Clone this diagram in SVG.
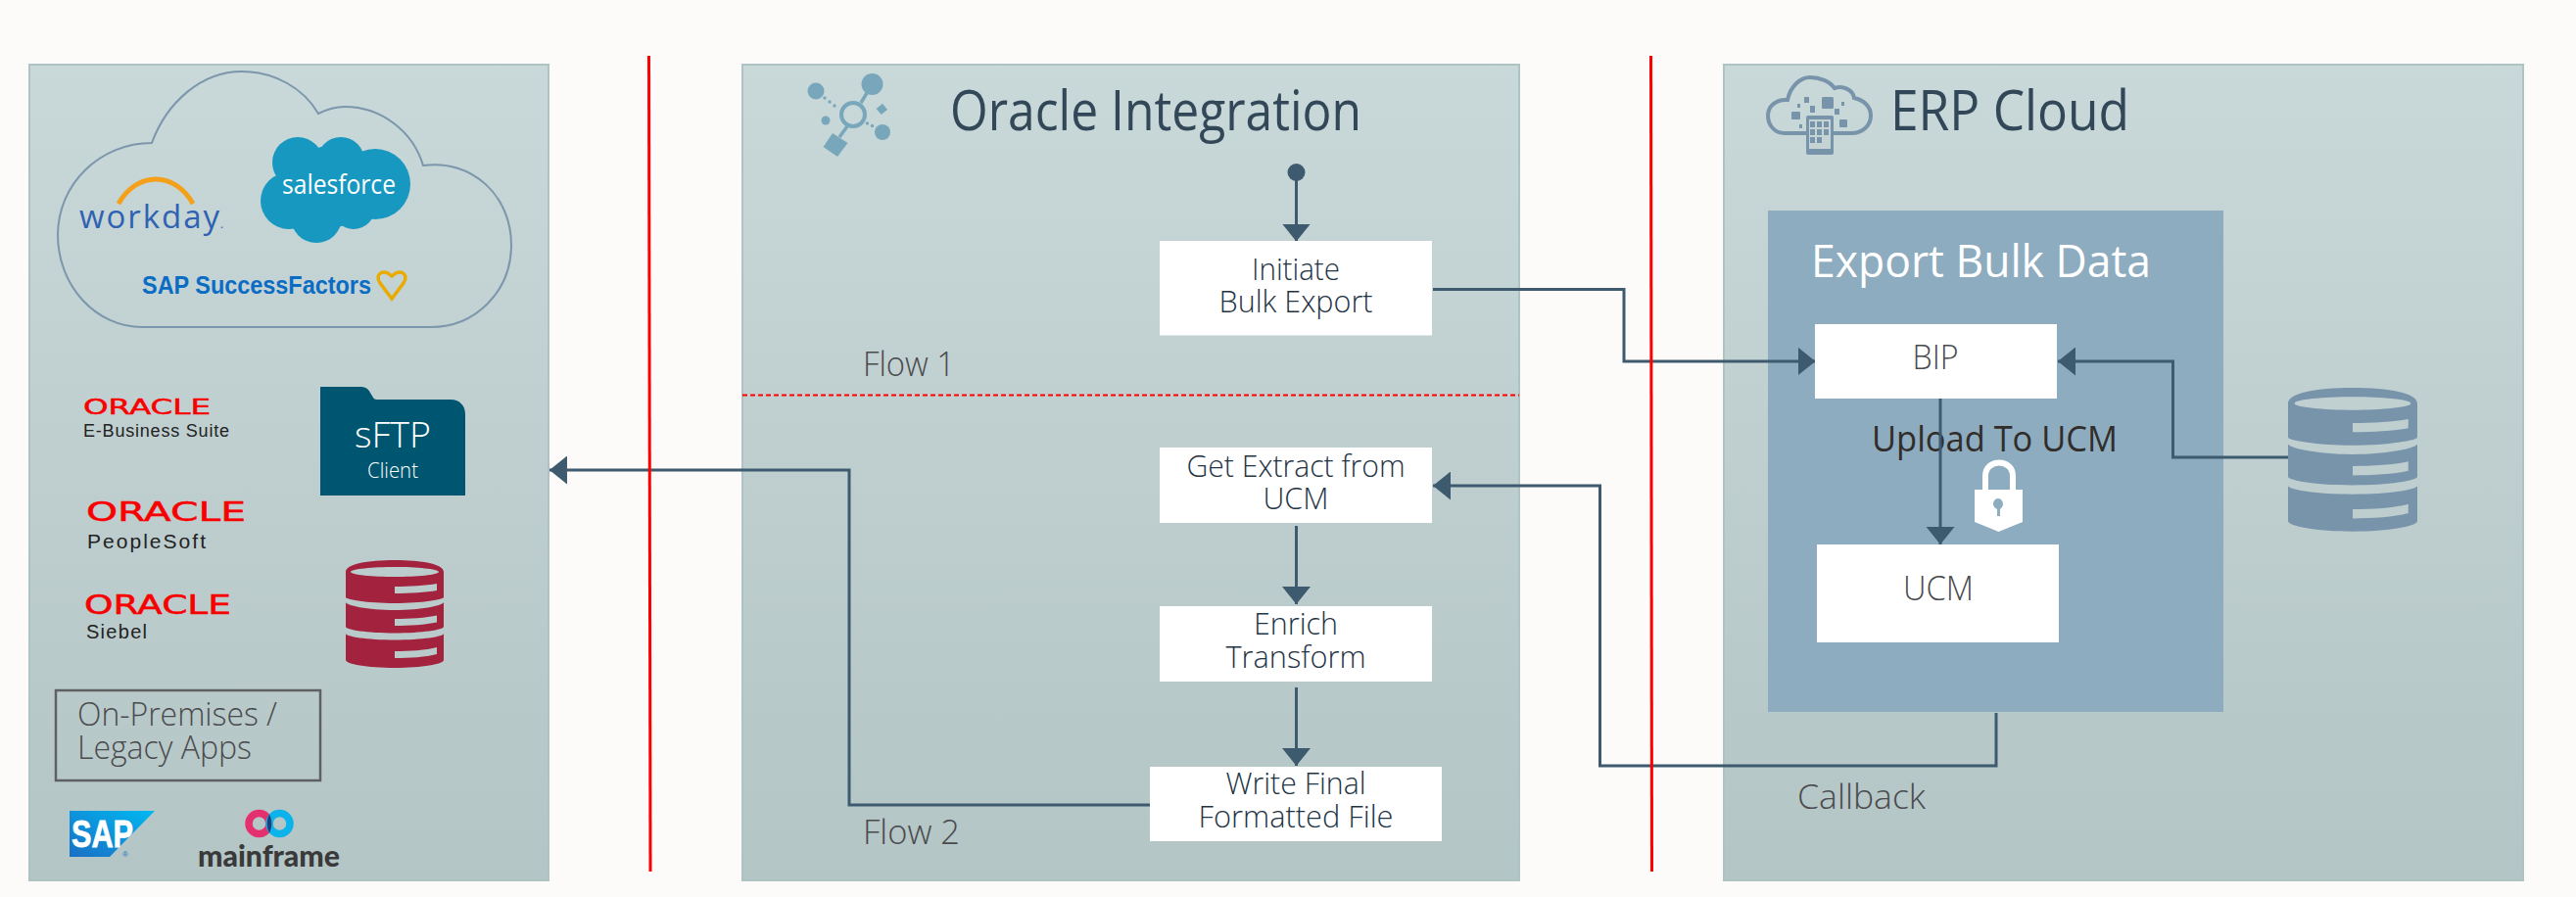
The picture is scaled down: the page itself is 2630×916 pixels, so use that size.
<svg xmlns="http://www.w3.org/2000/svg" xmlns:xlink="http://www.w3.org/1999/xlink" width="2630" height="916" viewBox="0 0 2630 916">
<style>
text{font-family:"Open Sans","Noto Sans","Liberation Sans",sans-serif;font-weight:300}
.panel{fill:url(#pg);stroke:#aec4c4;stroke-width:2}
.box{fill:#fff}
.t{font-size:32px;fill:#1f3545;text-anchor:middle;font-weight:300}
.g{font-size:34px;fill:#4a4b4d;font-weight:300}
.h{font-size:56px;fill:#324858;font-weight:400}
.c{fill:none;stroke:#3e5a6e;stroke-width:3}
.r{fill:none;stroke:#f00;stroke-width:3}
.o{font-family:"DejaVu Sans",sans-serif;fill:#f80000;font-weight:400;stroke:#f80000;stroke-width:.5}
.s{font-family:"Liberation Sans",sans-serif;fill:#222;font-weight:400}
.ic{fill:#78a7bc}
.ec{fill:#7894ab}
</style>
<defs>
<linearGradient id="pg" gradientUnits="userSpaceOnUse" x1="0" y1="65" x2="0" y2="899"><stop offset="0" stop-color="#c9d8d8"/><stop offset="1" stop-color="#b4c5c6"/></linearGradient>
<linearGradient id="sapg" x1="0" y1="1" x2="1" y2="0"><stop offset="0" stop-color="#1a6fc4"/><stop offset="1" stop-color="#00b9f2"/></linearGradient>
<marker id="ah" markerUnits="userSpaceOnUse" markerWidth="18" markerHeight="29" refX="18" refY="14.5" orient="auto"><path d="M0 0L18 14.5L0 29Z" fill="#3e5a6e"/></marker>
<path id="db" fill-rule="evenodd" d="M0 12C0 4 22 0 50 0C78 0 100 4 100 12V38C100 40 78 44 50 44C22 44 0 40 0 38ZM5 12C5 15 28 17 50 17C72 17 95 15 95 12C95 9 72 7 50 7C28 7 5 9 5 12ZM50 27V34C65 34 82 33 93 31V24C82 26 65 27 50 27ZM0 43C0 46 22 51 50 51C78 51 100 46 100 43V68C100 71 78 74.5 50 74.5C22 74.5 0 71 0 68ZM50 60V67C65 67 82 66 93 63.500V56.500C82 59 65 60 50 60ZM0 75C0 78 22 81.500 50 81.500C78 81.500 100 78 100 75V102C100 106 78 110 50 110C22 110 0 106 0 102ZM50 93V100C65 100 82 99 93 96V89C82 92 65 93 50 93Z"/>
</defs>
<rect width="2630" height="916" fill="#fcfbf9"/>

<g id="panel-apps"><rect class="panel" x="30" y="66" width="530" height="833"/></g>
<g id="panel-integration"><rect class="panel" x="758" y="66" width="793" height="833"/></g>
<g id="panel-erp"><rect class="panel" x="1760" y="66" width="816" height="833"/></g>

<g id="cloud-saas">
<path d="M155 146C170 105 205 73 247 73C280 73 310 90 325 116C333 112 342 109 352 109C390 109 422 135 432 169C482 162 522 200 522 250C522 298 485 334 440 334H145C98 334 59 292 59 240C59 188 102 146 155 146Z" fill="none" stroke="#7c96ac" stroke-width="2"/>
<g id="logo-workday"><path d="M121 208C130 192 144 183 159 183C174 183 188 192 197 208" fill="none" stroke="#f5a01a" stroke-width="5"/>
<text x="81" y="233" textLength="143" lengthAdjust="spacing" style="font-size:33px;fill:#2f62b3;font-weight:400">workday</text><text x="225" y="233" style="font-size:12px;fill:#2f62b3;font-weight:400">.</text></g>
<g id="logo-salesforce"><g fill="#1798c1"><circle cx="304" cy="166" r="26"/><circle cx="348" cy="164" r="24"/><circle cx="383" cy="188" r="36"/><circle cx="295" cy="205" r="29"/><circle cx="323" cy="222" r="26"/><circle cx="361" cy="212" r="22"/><circle cx="340" cy="190" r="42"/></g>
<text x="288" y="198" textLength="116" lengthAdjust="spacingAndGlyphs" style="font-size:27px;fill:#fff;font-weight:400">salesforce</text></g>
<g id="logo-successfactors"><text x="145" y="300" textLength="234" lengthAdjust="spacingAndGlyphs" style="font-family:'Liberation Sans',sans-serif;font-size:25px;font-weight:700;fill:#0b6cc4">SAP SuccessFactors</text>
<path d="M400 305L388 289C382 280 391 274 400 282C409 274 418 280 412 289Z" fill="none" stroke="#e9ab00" stroke-width="3.500"/></g>
</g>

<g id="logo-ebs"><text class="o" x="85" y="423" textLength="130" lengthAdjust="spacingAndGlyphs" style="font-size:21px">ORACLE</text><text class="s" x="85" y="446" textLength="149" lengthAdjust="spacing" style="font-size:18px">E-Business Suite</text></g>
<g id="logo-peoplesoft"><text class="o" x="88" y="532" textLength="163" lengthAdjust="spacingAndGlyphs" style="font-size:27px">ORACLE</text><text class="s" x="89" y="560" textLength="121" lengthAdjust="spacing" style="font-size:21px">PeopleSoft</text></g>
<g id="logo-siebel"><text class="o" x="86" y="627" textLength="150" lengthAdjust="spacingAndGlyphs" style="font-size:26px">ORACLE</text><text class="s" x="88" y="652" textLength="62" lengthAdjust="spacing" style="font-size:20px">Siebel</text></g>

<g id="sftp-client"><path d="M327 395H368C373 395 376 397 378 401L381 406C382 408 384 408 387 408H460C469 408 475 414 475 423V506H327Z" fill="#005670"/>
<text x="401" y="457" textLength="78" lengthAdjust="spacingAndGlyphs" text-anchor="middle" style="font-size:37px;fill:#fff">sFTP</text>
<text x="401" y="488" textLength="52" lengthAdjust="spacingAndGlyphs" text-anchor="middle" style="font-size:22px;fill:#fff">Client</text></g>

<g id="db-onprem"><use xlink:href="#db" href="#db" transform="translate(353 572)" fill="#a3233f"/></g>

<g id="legacy-label"><rect x="57" y="705" width="270" height="92" fill="none" stroke="#5f6062" stroke-width="2.500"/>
<text style="font-size:33px;fill:#4a4b4d;font-weight:300"><tspan x="79" y="741" textLength="204" lengthAdjust="spacingAndGlyphs">On-Premises /</tspan><tspan x="79" y="775" textLength="178" lengthAdjust="spacingAndGlyphs">Legacy Apps</tspan></text></g>

<g id="logo-sap"><path d="M71 828H158L112 875H71Z" fill="url(#sapg)"/>
<text x="73" y="865" textLength="63" lengthAdjust="spacingAndGlyphs" style="font-family:'Liberation Sans',sans-serif;font-size:39px;font-weight:700;fill:#fff;stroke:#fff;stroke-width:.8">SAP</text>
<text x="125" y="875" style="font-family:'Liberation Sans',sans-serif;font-size:8px;font-weight:400;fill:#1a6fc4">®</text></g>

<g id="logo-mainframe"><circle cx="264.500" cy="841" r="10.500" fill="none" stroke="#e5306f" stroke-width="7.500"/><circle cx="285.500" cy="841" r="10.500" fill="none" stroke="#0bb3ea" stroke-width="7.500"/><path d="M275 831.500C278 837 278 845 275 850.500C272 845 272 837 275 831.500Z" fill="#1f3e7a"/>
<text x="202" y="885" textLength="145" lengthAdjust="spacingAndGlyphs" style="font-family:Lato,sans-serif;font-size:31px;font-weight:900;fill:#3a3a3a">mainframe</text></g>

<g id="icon-integration">
<circle class="ic" cx="890.500" cy="86" r="11"/><circle class="ic" cx="833" cy="93" r="8.500"/><circle class="ic" cx="901" cy="135" r="8"/><circle class="ic" cx="843" cy="123" r="4.500"/>
<circle cx="871" cy="117" r="12" fill="none" stroke="#78a7bc" stroke-width="4"/>
<path d="M879 105L885 95M865 129L857 140" stroke="#78a7bc" stroke-width="3.500" fill="none"/>
<path class="ic" d="M840.500 150L850 136L865.500 146L855 160ZM894.600 111L901 105.700L906 112L899.700 117Z"/>
<g class="ic"><circle cx="842" cy="100" r="1.700"/><circle cx="847" cy="104" r="1.700"/><circle cx="852" cy="108" r="1.700"/><circle cx="885.500" cy="126" r="1.700"/><circle cx="890.500" cy="128.500" r="1.700"/></g>
</g>
<g id="title-integration"><text class="h" x="970" y="133" textLength="420" lengthAdjust="spacingAndGlyphs">Oracle Integration</text></g>

<g id="icon-erp">
<path d="M1831 136H1822C1812 136 1805 128 1805 118C1805 108 1814 101 1825 102C1828 88 1838 79 1848 79C1858 79 1868 83 1873 90C1882 87 1892 92 1893 100C1902 102 1910 108 1910 118C1910 128 1902 136 1890 136H1874" fill="none" stroke="#7894ab" stroke-width="4"/>
<path d="M1831 136H1844M1872 136H1890" stroke="#7894ab" stroke-width="4" fill="none"/>
<rect class="ec" x="1844" y="118" width="28" height="40" rx="2"/><rect x="1847" y="122" width="22" height="30" fill="#c5d3d4"/>
<g class="ec"><rect x="1848" y="124" width="5" height="6"/><rect x="1855" y="124" width="5" height="6"/><rect x="1862" y="124" width="5" height="6"/><rect x="1848" y="132" width="5" height="6"/><rect x="1855" y="132" width="5" height="6"/><rect x="1862" y="132" width="5" height="6"/><rect x="1848" y="140" width="5" height="6"/><rect x="1855" y="140" width="5" height="6"/>
<rect x="1860" y="99" width="12" height="12" rx="1.500"/><rect x="1829" y="114" width="9" height="8" rx="1"/><rect x="1878" y="122" width="8" height="8" rx="1"/><rect x="1848" y="108" width="5" height="7"/><rect x="1842" y="99" width="5" height="6"/><rect x="1873" y="111" width="5" height="6"/><rect x="1835" y="106" width="3" height="4"/><rect x="1880" y="104" width="3" height="4"/><rect x="1837" y="127" width="3" height="4"/></g>
</g>
<g id="title-erp"><text class="h" x="1930" y="133" textLength="244" lengthAdjust="spacingAndGlyphs">ERP Cloud</text></g>

<g id="flow-labels">
<text class="g" x="881" y="384" textLength="94" lengthAdjust="spacingAndGlyphs">Flow 1</text>
<text class="g" x="881" y="862" textLength="99" lengthAdjust="spacingAndGlyphs">Flow 2</text>
<text class="g" x="1835" y="826" textLength="131" lengthAdjust="spacingAndGlyphs">Callback</text>
</g>

<g id="group-export"><rect x="1805" y="215" width="465" height="512" fill="#8eacbf"/>
<text x="1849" y="283" textLength="347" lengthAdjust="spacingAndGlyphs" style="font-size:46px;fill:#fff;font-weight:400">Export Bulk Data</text>
<text x="1911" y="461" textLength="251" lengthAdjust="spacingAndGlyphs" style="font-size:37px;fill:#312d2a;font-weight:400">Upload To UCM</text>
<g id="icon-lock"><path d="M2027 501V486C2027 468 2055 468 2055 486V501" fill="none" stroke="#fff" stroke-width="6"/><path d="M2016 500H2065V533L2040.500 543L2016 533Z" fill="#fff"/><path d="M2040 509C2043 509 2045 512 2045 515C2045 517 2043 519 2042 520V527H2039V520C2037 519 2035 517 2035 515C2035 512 2037 509 2040 509Z" fill="#8eacbf"/></g>
</g>

<g id="db-erp"><use xlink:href="#db" href="#db" transform="translate(2336 396) scale(1.32 1.334)" fill="#7894ab"/></g>

<g id="connectors">
<circle cx="1323.500" cy="176" r="9" fill="#3e5a6e"/>
<path class="c" d="M1323.500 176V246.500" marker-end="url(#ah)"/>
<path class="c" d="M1463 295.500H1658V369H1853.500" marker-end="url(#ah)"/>
<path class="c" d="M2336 467H2218.500V369H2101" marker-end="url(#ah)"/>
<path class="c" d="M1981 407V556" marker-end="url(#ah)"/>
<path class="c" d="M2038 728V782H1633.500V496H1463" marker-end="url(#ah)"/>
<path class="c" d="M1323.500 537V617" marker-end="url(#ah)"/>
<path class="c" d="M1323.500 702V782" marker-end="url(#ah)"/>
<path class="c" d="M1174 822H867V480H561" marker-end="url(#ah)"/>
</g>

<g id="dividers">
<path class="r" d="M662.500 57L664 890"/>
<path class="r" d="M1685.500 57L1686.500 890"/>
<path d="M758 403.500H1551" fill="none" stroke="#f00" stroke-width="2" stroke-dasharray="5 3"/>
</g>

<g id="node-initiate"><rect class="box" x="1184" y="246" width="278" height="96.500"/><text class="t"><tspan x="1323" y="285.500" textLength="90" lengthAdjust="spacingAndGlyphs">Initiate</tspan><tspan x="1323" y="319" textLength="157" lengthAdjust="spacingAndGlyphs">Bulk Export</tspan></text></g>
<g id="node-get-extract"><rect class="box" x="1184" y="457" width="278" height="77"/><text class="t"><tspan x="1323" y="487" textLength="223" lengthAdjust="spacingAndGlyphs">Get Extract from</tspan><tspan x="1323" y="520" textLength="67" lengthAdjust="spacingAndGlyphs">UCM</tspan></text></g>
<g id="node-enrich"><rect class="box" x="1184" y="619" width="278" height="77"/><text class="t"><tspan x="1323" y="648" textLength="86" lengthAdjust="spacingAndGlyphs">Enrich</tspan><tspan x="1323" y="682" textLength="143" lengthAdjust="spacingAndGlyphs">Transform</tspan></text></g>
<g id="node-write"><rect class="box" x="1174" y="783" width="298" height="76"/><text class="t"><tspan x="1323" y="811" textLength="143" lengthAdjust="spacingAndGlyphs">Write Final</tspan><tspan x="1323" y="845" textLength="199" lengthAdjust="spacingAndGlyphs">Formatted File</tspan></text></g>
<g id="node-bip"><rect class="box" x="1853" y="331" width="247" height="76"/><text x="1976" y="377" textLength="47" lengthAdjust="spacingAndGlyphs" text-anchor="middle" style="font-size:34px;fill:#4a4b4d;font-weight:300">BIP</text></g>
<g id="node-ucm"><rect class="box" x="1855" y="556" width="247" height="100"/><text x="1979" y="613" textLength="72" lengthAdjust="spacingAndGlyphs" text-anchor="middle" style="font-size:34px;fill:#4a4b4d;font-weight:300">UCM</text></g>
</svg>
